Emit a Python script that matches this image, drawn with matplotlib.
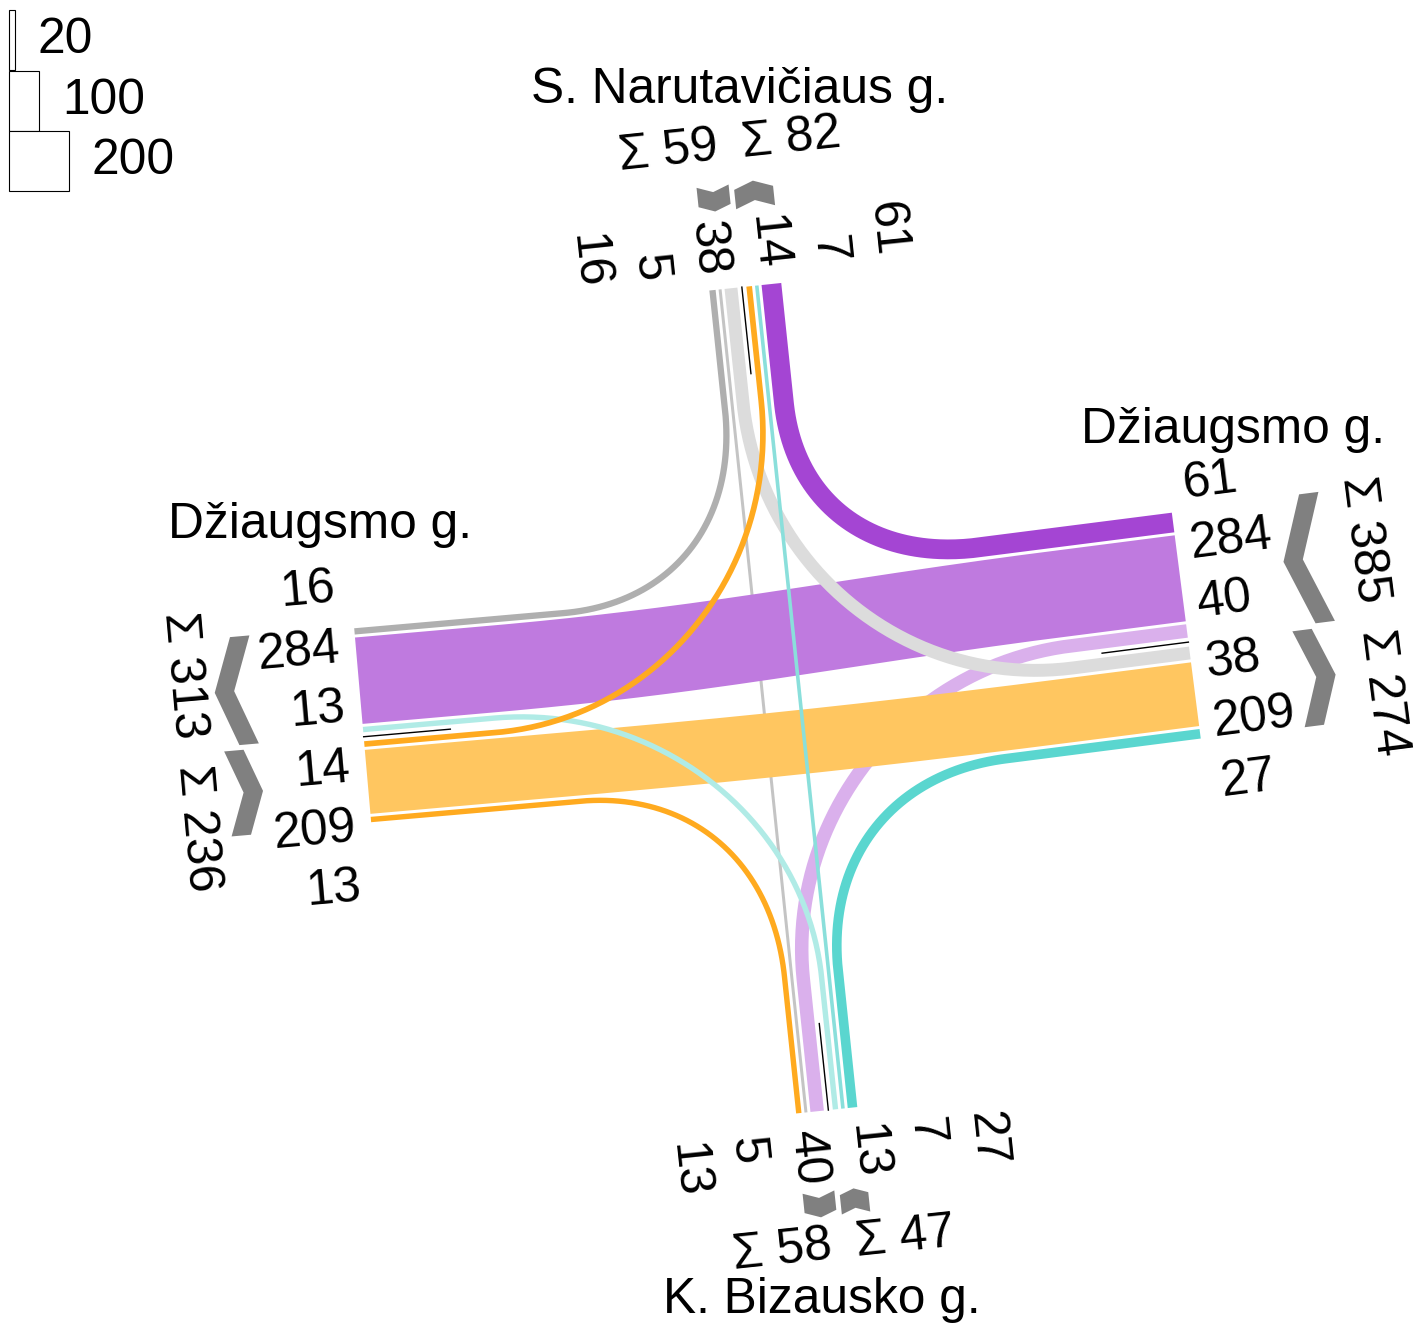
import numpy as np
import matplotlib
matplotlib.use("Agg")
import matplotlib.pyplot as plt
from matplotlib.patches import Polygon, Rectangle

plt.rcParams["font.family"] = ["Liberation Sans", "DejaVu Sans"]

# --- DATA ---
ARMS = ["N", "E", "S", "W"]
ARM_NAMES = ["S. Narutavičiaus g.", "Džiaugsmo g.", "K. Bizausko g.", "Džiaugsmo g."]

FLOW_FROM = ["N", "N", "N", "E", "E", "E", "S", "S", "S", "W", "W", "W"]
FLOW_TO = ["W", "S", "E", "N", "W", "S", "E", "N", "W", "S", "E", "N"]
FLOW_COUNT = [16, 5, 38, 61, 284, 40, 27, 7, 13, 13, 209, 14]

LEGEND_VALUES = [20, 100, 200]

# --- STYLE / LAYOUT ---
FLOW_COLOR = ["#afafaf", "#c4c4c4", "#dcdcdc",
              "#a445d3", "#bf7adf", "#dab0ec",
              "#5ad6cf", "#8adfdb", "#b0ebe6",
              "#ffaa1f", "#ffc660", "#ffaa1f"]
DRAW_ORDER = [1, 5, 4, 10, 2, 8, 11, 7, 0, 3, 9, 6]

SCALE = 0.3
FS = 35.7
C = np.array([783.2, 690.0])
ARM_ANGLE = {"N": 6.0, "E": 7.3, "S": 6.0, "W": 5.0}
ARM_LEN = {"N": 405, "E": 408, "S": 422.5, "W": 422}
ARM_SHIFT = {"N": 1, "E": 4, "S": 1, "W": 10}
SIDE_IN = {"N": -1, "E": -1, "S": 1, "W": 1}
LABEL_DIST = {"N": 420, "E": 422, "S": 440, "W": 438}
LABEL_MID = {"N": 1, "E": -2.5, "S": 5, "W": 10}
CHEV_DIST = {"N": 483, "E": 512.5, "S": 503, "W": 527}
SUM_DIST = {"N": 547, "E": 595, "S": 558, "W": 596}
SUM_MID = {"N": 4, "E": 2, "S": 2, "W": 10}
SUM_OFF = {"N": 62, "E": 77, "S": 62, "W": 77}
NAME_POS = {"N": (740, 90), "E": (1233, 430), "S": (822, 1300), "W": (320, 525)}
HALF_GAP, GAP = 4.5, 3.0


def width(n):
    return SCALE * n + 1.5


def vectors(arm):
    t = np.radians(ARM_ANGLE[arm])
    c, s = np.cos(t), np.sin(t)
    if arm == "N":
        return np.array([-s, -c]), np.array([c, -s])
    if arm == "S":
        return np.array([s, c]), np.array([c, -s])
    if arm == "E":
        return np.array([c, -s]), np.array([s, c])
    return np.array([-c, s]), np.array([s, c])


VEC = {a: vectors(a) for a in ARMS}


def pt(arm, d, l):
    o, la = VEC[arm]
    return C + d * o + l * la


def turn(i):
    return (ARMS.index(FLOW_TO[i]) - ARMS.index(FLOW_FROM[i])) % 4


RANK = {1: 0, 2: 1, 3: 2}

# lane positions (lateral offset) of every flow at its origin and destination arm
lat_from, lat_to = {}, {}
group = {}
for arm in ARMS:
    for kind in ("in", "out"):
        if kind == "in":
            idx = [i for i in range(len(FLOW_COUNT)) if FLOW_FROM[i] == arm]
            side = SIDE_IN[arm]
        else:
            idx = [i for i in range(len(FLOW_COUNT)) if FLOW_TO[i] == arm]
            side = -SIDE_IN[arm]
        idx.sort(key=lambda i: RANK[turn(i)])
        cum = HALF_GAP
        for i in idx:
            w = width(FLOW_COUNT[i])
            l = ARM_SHIFT[arm] + side * (cum + w / 2)
            if kind == "in":
                lat_from[i] = l
            else:
                lat_to[i] = l
            cum += w + GAP
        gw = cum - GAP - HALF_GAP
        group[(arm, kind)] = (idx, side, gw, sum(FLOW_COUNT[i] for i in idx))


def corner(p0, d0, p3, d3):
    m = np.array([d0, -d3]).T
    t = np.linalg.solve(m, p3 - p0)
    return p0 + t[0] * d0


def flow_path(i):
    a, b = FLOW_FROM[i], FLOW_TO[i]
    tt = turn(i)
    if tt == 1:
        sa, sb, k = 290, 290, 0.55
    elif tt == 3:
        sa = 285 if a in "NS" else 212
        sb = 285 if b in "NS" else 212
        k = 0.6
    else:
        sa, sb, k = 290, 290, None
    start = pt(a, ARM_LEN[a], lat_from[i])
    p0 = pt(a, sa, lat_from[i])
    p3 = pt(b, sb, lat_to[i])
    end = pt(b, ARM_LEN[b], lat_to[i])
    d0 = -VEC[a][0]
    d3 = -VEC[b][0]
    if k is None:
        L = 0.4 * np.linalg.norm(p3 - p0)
        p1, p2 = p0 + L * d0, p3 + L * d3
    else:
        K = corner(p0, d0, p3, d3)
        p1 = p0 + k * np.linalg.norm(K - p0) * d0
        p2 = p3 + k * np.linalg.norm(K - p3) * d3
    t = np.linspace(0, 1, 150)[:, None]
    bez = ((1 - t) ** 3) * p0 + 3 * ((1 - t) ** 2) * t * p1 + 3 * (1 - t) * t ** 2 * p2 + t ** 3 * p3
    pts = np.vstack([start, bez, end])
    return pts[:, 0], pts[:, 1]


fig = plt.figure(figsize=(14.18, 13.27), dpi=100)
ax = fig.add_axes([0, 0, 1, 1])
ax.set_xlim(0, 1418)
ax.set_ylim(1327, 0)
ax.axis("off")

PX = 72.0 / fig.dpi

# ribbons
for i in DRAW_ORDER:
    xs, ys = flow_path(i)
    ax.plot(xs, ys, color=FLOW_COLOR[i], lw=width(FLOW_COUNT[i]) * PX,
            solid_capstyle="butt", solid_joinstyle="round", zorder=2)

# centre lines at the arm ends
for arm in ARMS:
    p = pt(arm, ARM_LEN[arm], ARM_SHIFT[arm])
    q = pt(arm, ARM_LEN[arm] - 87, ARM_SHIFT[arm])
    ax.plot([p[0], q[0]], [p[1], q[1]], color="black", lw=1.0, zorder=3)

# lane labels
for arm in ARMS:
    idx = [i for i in range(len(FLOW_COUNT)) if FLOW_FROM[i] == arm]
    idx_lat = [(lat_from[i], i) for i in idx]
    idx_lat += [(lat_to[i], i) for i in range(len(FLOW_COUNT)) if FLOW_TO[i] == arm]
    idx_lat.sort()
    if arm in "NS":
        rot = ARM_ANGLE[arm] - 90
    else:
        rot = ARM_ANGLE[arm]
    ha = "right" if arm in "NW" else "left"
    for slot, (_, i) in enumerate(idx_lat):
        l = LABEL_MID[arm] + (slot - 2.5) * 60
        p = pt(arm, LABEL_DIST[arm], l)
        ax.text(p[0], p[1], str(FLOW_COUNT[i]), fontsize=FS, rotation=rot,
                rotation_mode="anchor", ha=ha, va="center", zorder=4)

# chevrons and sums
T = 19.5
for arm in ARMS:
    for kind in ("in", "out"):
        idx, side, gw, total = group[(arm, kind)]
        H = gw / 2 + 2
        D = 0.37 * H
        bc = ARM_SHIFT[arm] + side * (HALF_GAP + gw / 2)
        a = CHEV_DIST[arm]
        if kind == "in":
            shape = [(a + D, -H), (a + D + T, -H), (a + T, 0), (a + D + T, H), (a + D, H), (a, 0)]
        else:
            shape = [(a, -H), (a + T, -H), (a + T + D, 0), (a + T, H), (a, H), (a + D, 0)]
        poly = [pt(arm, s, bc + b) for s, b in shape]
        ax.add_patch(Polygon(poly, closed=True, facecolor="#808080", edgecolor="none", zorder=3))

        if arm in "NS":
            rot = ARM_ANGLE[arm]
        else:
            rot = ARM_ANGLE[arm] - 90
        p = pt(arm, SUM_DIST[arm], SUM_MID[arm] + side * SUM_OFF[arm])
        ax.text(p[0], p[1], "Σ %d" % total, fontsize=FS, rotation=rot,
                rotation_mode="anchor", ha="center", va="center", zorder=4)

# street names
for arm, name in zip(ARMS, ARM_NAMES):
    x, y = NAME_POS[arm]
    ax.text(x, y, name, fontsize=FS, ha="center", va="center", zorder=4)

# size legend
y0 = 10
for v in LEGEND_VALUES:
    w = v * SCALE
    ax.add_patch(Rectangle((9, y0), w, 60, facecolor="white", edgecolor="black", lw=0.8, zorder=4))
    ax.text(9 + w + 23, y0 + 30, str(v), fontsize=FS, ha="left", va="center", zorder=4)
    y0 += 60.5

fig.savefig("out.png", dpi=100)
